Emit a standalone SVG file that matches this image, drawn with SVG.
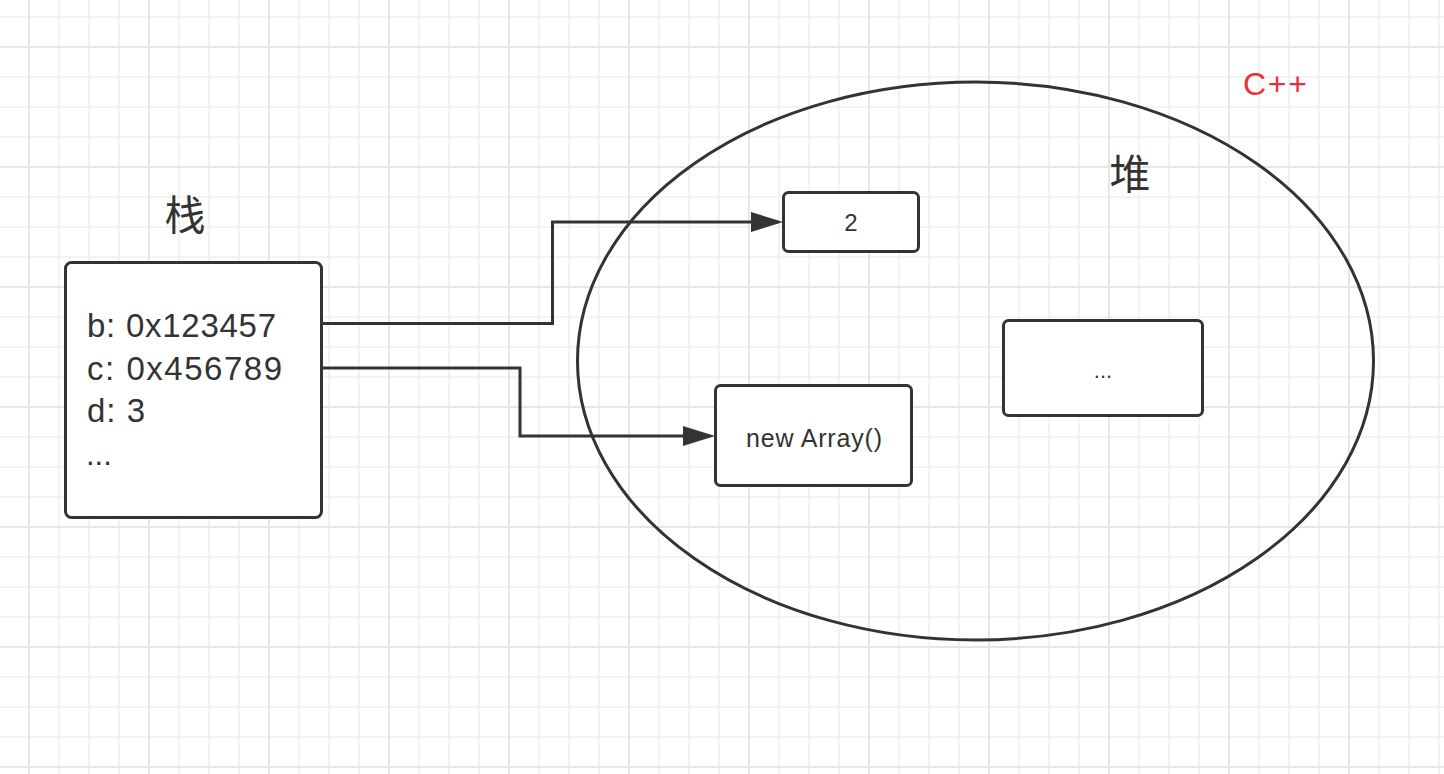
<svg xmlns="http://www.w3.org/2000/svg" width="1444" height="774" viewBox="0 0 1444 774">
  <defs>
    <pattern id="gridMinor" patternUnits="userSpaceOnUse" x="14" y="2" width="30" height="30">
      <path d="M15 0 V30 M0 15 H30" fill="none" stroke="#efefef" stroke-width="1.6"/>
    </pattern>
    <pattern id="gridMajor" patternUnits="userSpaceOnUse" x="-31" y="-13" width="120" height="120">
      <path d="M60 0 V120 M0 60 H120" fill="none" stroke="#e5e5e5" stroke-width="1.8"/>
    </pattern>
    <marker id="arrow" markerUnits="userSpaceOnUse" markerWidth="34" markerHeight="22" refX="27" refY="11" orient="auto">
      <path d="M0 1 L32 11 L0 21 Z" fill="#333333"/>
    </marker>
  </defs>
  <style>
    .box { fill: #ffffff; stroke: #333333; stroke-width: 3; }
    .conn { fill: none; stroke: #333333; stroke-width: 3; marker-end: url(#arrow); }
    .txt { font-family: "Liberation Sans", Arial, "Noto Sans CJK SC", sans-serif; fill: #333333; }
    .cjk { font-family: "Noto Sans CJK SC", "Liberation Sans", sans-serif; fill: #333333; font-size: 41px; text-anchor: middle; }
  </style>

  <rect x="0" y="0" width="1444" height="774" fill="#ffffff"/>
  <rect x="0" y="0" width="1444" height="774" fill="url(#gridMinor)"/>
  <rect x="0" y="0" width="1444" height="774" fill="url(#gridMajor)"/>

  <g id="heap">
    <ellipse cx="975.5" cy="361" rx="398" ry="279" fill="none" stroke="#333333" stroke-width="3"/>
    <text class="cjk" x="1130" y="189">堆</text>
  </g>

  <g id="lang-label">
    <text x="1243" y="95" font-family="Liberation Sans, Arial, sans-serif" font-size="32" fill="#e6333b" textLength="64">C++</text>
  </g>

  <g id="stack-label">
    <text class="cjk" x="185" y="230">栈</text>
  </g>

  <g id="connectors">
    <path class="conn" d="M322 323.5 H552.5 V222 H778"/>
    <path class="conn" d="M322 368 H520 V436 H710"/>
  </g>

  <g id="stack">
    <rect class="box" x="65.5" y="262.5" width="256" height="255" rx="6" ry="6"/>
    <text class="txt" x="87" y="337" font-size="33" textLength="189">b: 0x123457</text>
    <text class="txt" x="87" y="380" font-size="33" textLength="195">c: 0x456789</text>
    <text class="txt" x="87" y="422" font-size="33" textLength="58">d: 3</text>
    <text class="txt" x="86" y="465" font-size="31">...</text>
  </g>

  <g id="val-2">
    <rect class="box" x="783.5" y="192.5" width="135" height="59" rx="5" ry="5"/>
    <text class="txt" x="851" y="231" font-size="24" text-anchor="middle">2</text>
  </g>

  <g id="new-array">
    <rect class="box" x="715.5" y="385.5" width="196" height="100" rx="5" ry="5"/>
    <text class="txt" x="746" y="447" font-size="25" textLength="136">new Array()</text>
  </g>

  <g id="heap-more">
    <rect class="box" x="1003.5" y="320.5" width="199" height="95" rx="5" ry="5"/>
    <text class="txt" x="1103" y="378" font-size="22" text-anchor="middle">...</text>
  </g>
</svg>
